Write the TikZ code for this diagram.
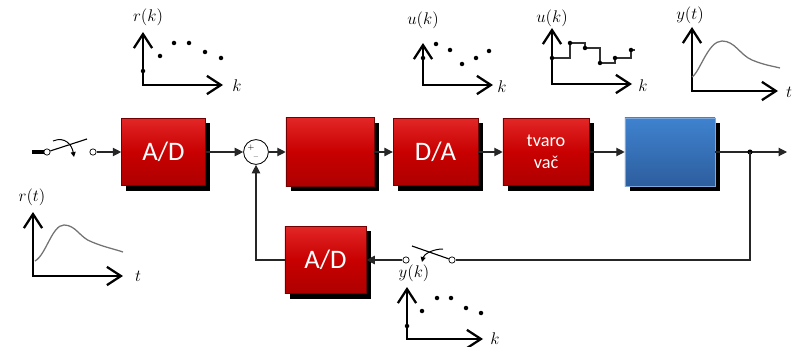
\documentclass[tikz,border=0pt]{standalone}
\usepackage{fontspec}
\newfontfamily\blockfont{Carlito}
\usetikzlibrary{arrows.meta,shadows}
\definecolor{redtop}{HTML}{E22626}
\definecolor{redbot}{HTML}{AE0000}
\definecolor{redmid}{HTML}{C80000}
\definecolor{bluetop}{HTML}{3F82CF}
\definecolor{bluebot}{HTML}{2D5E9E}
\definecolor{blueedge}{HTML}{7FA9DC}

\begin{document}
\begin{tikzpicture}[x=0.025cm,y=-0.025cm,>={Triangle[length=6pt,width=6pt]}]
\tikzstyle{blk}=[draw=red!45!black,top color=redtop,bottom color=redbot,middle color=redmid,minimum width=2.1cm,minimum height=1.68cm,text=white,font=\blockfont\fontsize{19}{22}\selectfont,drop shadow={shadow xshift=3.5pt,shadow yshift=-3.5pt,fill=black,opacity=1}]
\tikzstyle{pblk}=[blk,draw=blueedge,top color=bluetop,bottom color=bluebot]
\tikzstyle{sw}=[circle,draw,fill=white,inner sep=0pt,minimum size=4.5pt,line width=0.5pt]
\tikzstyle{ln}=[line width=0.8pt,black!85]
\tikzstyle{ax}=[line width=1.6pt,{Straight Barb[length=10pt,width=13pt]}-{Straight Barb[length=10pt,width=13pt]}]
\tikzstyle{lab}=[font=\fontsize{11.5}{13}\selectfont]
\tikzstyle{crv}=[black!55,line width=0.9pt]
\useasboundingbox (0,0) rectangle (801,347);
% forward path
\node[fill=black,minimum width=0.32cm,minimum height=0.12cm,inner sep=0pt] (inp) at (38.5,152) {};
\node[sw] (sw1a) at (47,152) {};
\node[sw] (sw1b) at (93,152) {};
\draw[line width=0.8pt] (sw1a) -- (87,139);
\draw[line width=0.7pt,-{Triangle[length=3.5pt,width=3.5pt]}] (53,141) .. controls (65,136) and (72,145) .. (74,157);
\node[blk] (ad1) at (163.5,152) {A/D};
\node[circle,draw,line width=0.6pt,minimum size=0.62cm,inner sep=0pt] (sum) at (256,152) {};
\node[font=\tiny,inner sep=0pt] (plus) at (251,148) {+};
\node[font=\tiny,inner sep=0pt] (minus) at (256,158) {--};
\node[blk,minimum width=2.2cm,minimum height=1.72cm] (ctrl) at (330,152) {};
\node[blk,minimum width=2.12cm] (da) at (435.5,152) {D/A};
\node[blk,minimum width=2.15cm,align=center,font=\blockfont\fontsize{13}{15.5}\selectfont] (tvar) at (546,152) {tvaro\\vač};
\node[pblk,minimum width=2.25cm,minimum height=1.7cm] (plant) at (670,152) {};
\coordinate (br) at (750,152);
\coordinate (out) at (787,152);
\draw[ln,->] (sw1b) -- (ad1);
\draw[ln,->] (ad1) -- (sum);
\draw[ln,->] (sum) -- (ctrl);
\draw[ln,->] (ctrl) -- (da);
\draw[ln,->] (da) -- (tvar);
\draw[ln,->] (tvar) -- (plant);
\draw[ln,->] (plant) -- (out);
\fill (br) circle (1.8pt);
% feedback
\node[blk,minimum width=2.03cm] (ad2) at (325.5,260) {A/D};
\node[sw] (sw2a) at (406,260) {};
\node[sw] (sw2b) at (452,260) {};
\draw[line width=0.8pt] (sw2b) -- (412,246);
\draw[line width=0.7pt,-{Triangle[length=3.5pt,width=3.5pt]}] (443,249) .. controls (433,249) and (424,254) .. (422,262);
\draw[ln] (br) |- (sw2b);
\draw[ln,->] (sw2a) -- (ad2);
\draw[ln,->] (ad2) -| (sum);
% r(k)
\draw[ax] (143,32) -- (143,85) -- (223,85);
\node[lab] (rk) at (148,17) {$r(k)$};
\node[lab] (rkk) at (237,86) {$k$};
\foreach \x/\y in {143/71,160/56,174/43,189/43,205/52,221/58} \fill (\x,\y) circle (1.6pt);
% u(k) samples
\draw[ax] (423,43) -- (423,85) -- (493,85);
\node[lab] (uk1) at (423,20) {$u(k)$};
\node[lab] (uk1k) at (502,87) {$k$};
\foreach \x/\y in {423/58,436/44,450/50,462/64,476/58,489/51} \fill (\x,\y) circle (1.6pt);
% u(k) held
\draw[ax] (552,28) -- (552,84) -- (632,84);
\node[lab] (uk2) at (552,18) {$u(k)$};
\node[lab] (uk2k) at (643,86) {$k$};
\draw[line width=0.8pt,black!80] (552,58) -| (570,43) -| (585,48) -| (600,63) -| (615,58) -| (631,50) -- (635,50);
\foreach \x/\y in {552/58,570/43,585/48,600/63,615/58,631/50} \fill (\x,\y) circle (1.6pt);
% y(t)
\draw[ax] (692,27) -- (692,91) -- (778,91);
\node[lab] (yt) at (690,15) {$y(t)$};
\node[lab] (ytt) at (789,92) {$t$};
\draw[crv] (692,77) .. controls (700,72) and (708,41) .. (722,41) .. controls (735,41) and (740,55) .. (752,60) .. controls (764,65) and (772,66) .. (780,68);
% r(t)
\draw[ax] (33,212) -- (33,276) -- (123,276);
\node[lab] (rt) at (32,197) {$r(t)$};
\node[lab] (rtt) at (138,276) {$t$};
\draw[crv] (35,261) .. controls (46,255) and (52,225) .. (64,225) .. controls (76,225) and (80,238) .. (92,242) .. controls (104,247) and (114,249) .. (123,252);
% y(k)
\draw[ax] (407,287) -- (407,339) -- (483,339);
\node[lab] (yk) at (414,273) {$y(k)$};
\node[lab] (ykk) at (495,339) {$k$};
\foreach \x/\y in {407/326,422/311,437/298,451/298,466/308,481/313} \fill (\x,\y) circle (1.6pt);
\end{tikzpicture}
\end{document}
